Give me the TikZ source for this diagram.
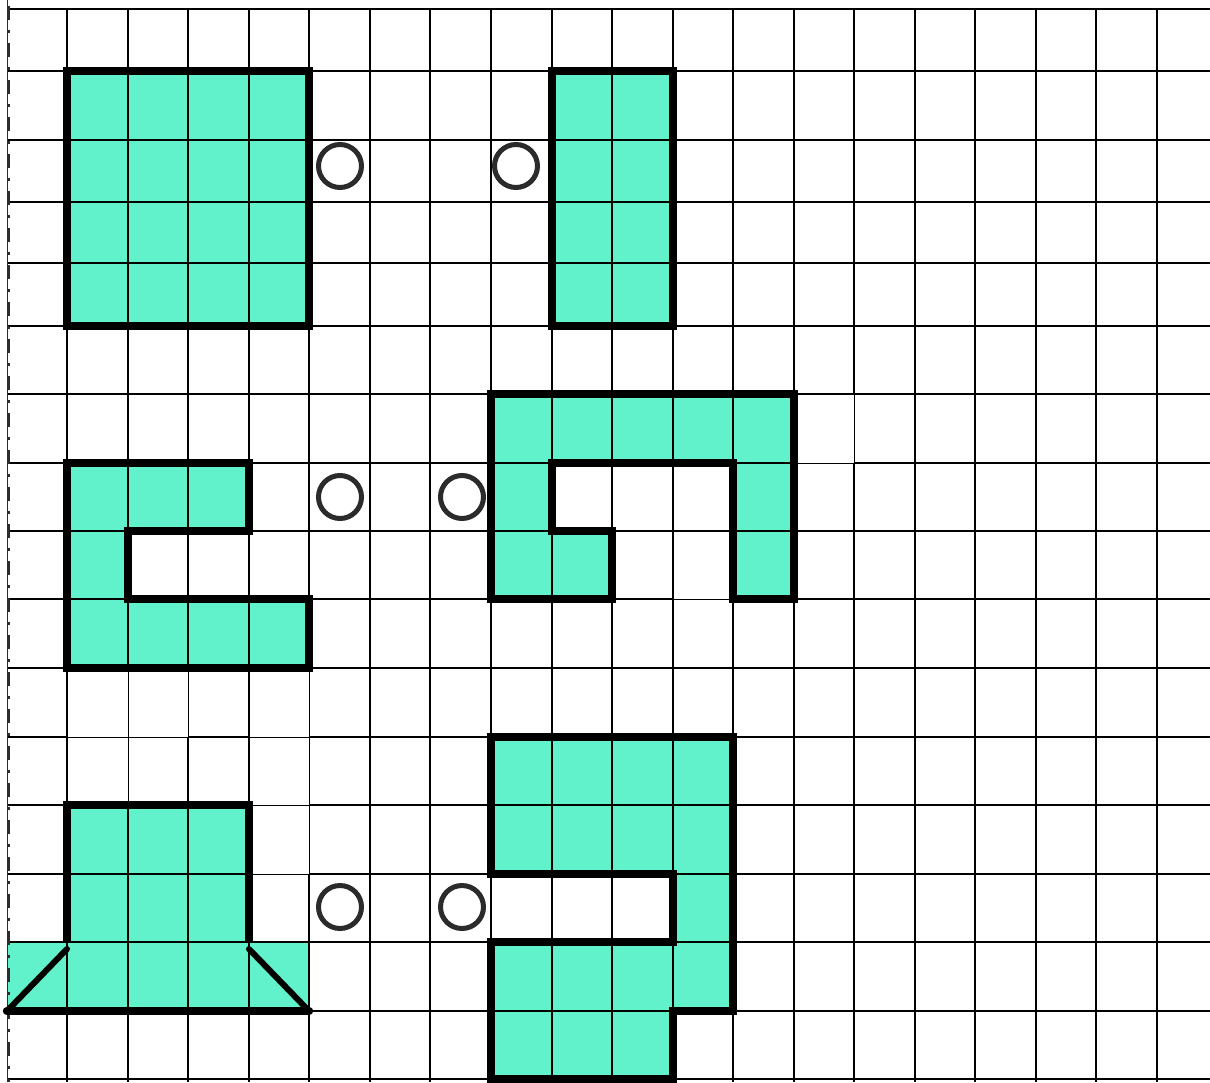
\documentclass[tikz,border=0pt]{standalone}
\usetikzlibrary{shapes.geometric}
\definecolor{aqua}{RGB}{98,242,203}
\definecolor{ringgray}{RGB}{43,43,43}
\definecolor{dashgray}{RGB}{45,45,45}
\tikzset{
  gridline/.style={line width=1.6pt,black},
  thinline/.style={line width=0.9pt,black},
  shapefill/.style={fill=aqua,draw=none},
  outline/.style={line width=8.5pt,black,line join=miter},
  diag/.style={line width=6pt,black,line cap=round},
  ring/.style={circle,draw=ringgray,line width=5pt,minimum size=43pt,inner sep=0pt,fill=none},
}
\begin{document}
\begin{tikzpicture}[x=1pt,y=-1pt]
\useasboundingbox (0,0) rectangle (1210,1082);
\fill[white] (0,0) rectangle (1210,1082);
\begin{scope}
\clip (0,0) rectangle (1210,1082);
% fills
\fill[shapefill] (67,71) rectangle (309,326);
\fill[shapefill] (552,71) rectangle (673,326);
\fill[shapefill] (67,463)--(249,463)--(249,531)--(128,531)--(128,599)--(309,599)--(309,668)--(67,668)--cycle;
\fill[shapefill] (491,394)--(794,394)--(794,599)--(733,599)--(733,463)--(552,463)--(552,531)--(612,531)--(612,599)--(491,599)--cycle;
\fill[shapefill] (67,805) rectangle (249,942);
\fill[shapefill] (7,942) rectangle (309,1011);
\fill[shapefill] (491,737)--(733,737)--(733,1011)--(673,1011)--(673,1079)--(491,1079)--(491,942)--(673,942)--(673,874)--(491,874)--cycle;
% grid
\foreach \x in {67,128,188,249,309,370,430,491,552,612,673,733,794,854,915,975,1036,1096,1157}
  \draw[gridline] (\x,9) -- (\x,1082);
\foreach \y in {9,71,140,202,263,326,394,463,531,599,668,737,805,874,942,1011,1079}
  \draw[gridline] (7,\y) -- (1210,\y);
% white patch cells with thin borders
\foreach \a/\b/\c/\d in {794/394/854/463, 673/531/733/599, 67/668/128/737, 128/668/188/737, 249/668/309/737, 67/737/128/805, 249/737/309/805, 249/805/309/874}
  \draw[thinline,fill=white] (\a,\b) rectangle (\c,\d);
% left dashed line
\draw[line width=1pt,dashgray] (7,0) -- (7,1082);
\draw[line width=3.5pt,dashgray,dash pattern=on 14pt off 10pt on 3pt off 10pt,dash phase=-6pt] (8.5,0) -- (8.5,1082);
% outlines
\draw[outline] (67,71) rectangle (309,326);
\draw[outline] (552,71) rectangle (673,326);
\draw[outline] (67,463)--(249,463)--(249,531)--(128,531)--(128,599)--(309,599)--(309,668)--(67,668)--cycle;
\draw[outline] (491,394)--(794,394)--(794,599)--(733,599)--(733,463)--(552,463)--(552,531)--(612,531)--(612,599)--(491,599)--cycle;
\draw[outline] (67,942)--(67,805)--(249,805)--(249,942);
\draw[outline,line cap=round] (7,1011)--(309,1011);
\draw[diag] (67,949)--(7,1011);
\draw[diag] (249,949)--(309,1011);
\draw[outline] (491,737)--(733,737)--(733,1011)--(673,1011)--(673,1079)--(491,1079)--(491,942)--(673,942)--(673,874)--(491,874)--cycle;
\end{scope}
% rings
\node[ring] (r1) at (340,166) {};
\node[ring] (r2) at (516,166) {};
\node[ring] (r3) at (340,497) {};
\node[ring] (r4) at (462,497) {};
\node[ring] (r5) at (340,907) {};
\node[ring] (r6) at (462,907) {};
\end{tikzpicture}
\end{document}
